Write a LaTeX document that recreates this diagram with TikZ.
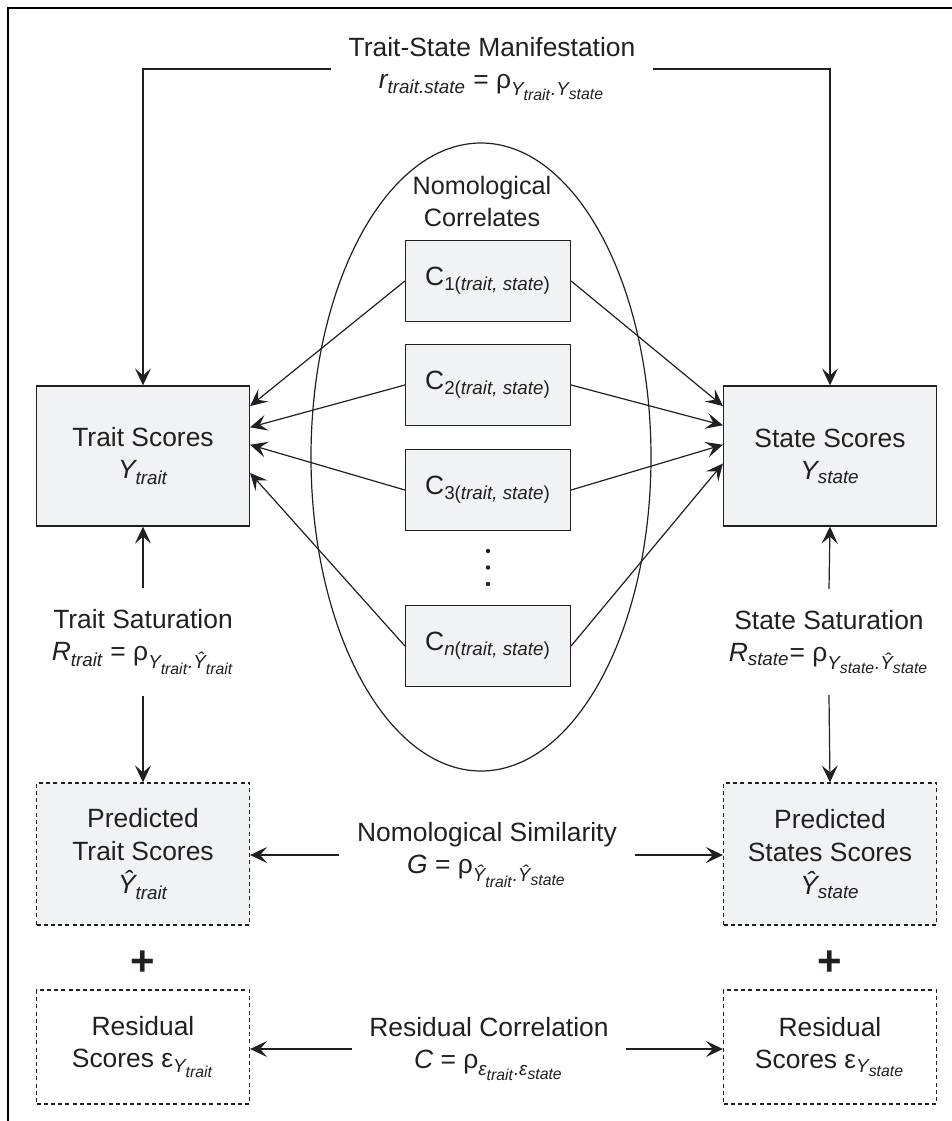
\documentclass[tikz,border=0pt]{standalone}
\usepackage{amsmath}
\usepackage{fontspec}
\setmainfont{Liberation Sans}
\usetikzlibrary{arrows.meta}
\DeclareMathSizes{13.2}{13.2}{9.4}{7.9}
\definecolor{boxgray}{RGB}{241,242,243}
\definecolor{inkgray}{RGB}{35,31,32}
\begin{document}
\begin{tikzpicture}[x=0.5pt,y=-0.5pt,
    every node/.style={font=\fontsize{13.2}{16}\selectfont, text=inkgray, align=center},
    scorebox/.style={draw=inkgray, line width=0.6pt, fill=boxgray, minimum width=106.5pt, minimum height=70pt, inner sep=0pt},
    predbox/.style={scorebox, dash pattern=on 2pt off 1.6pt, minimum height=71pt, font=\fontsize{13.2}{16.5}\selectfont},
    residbox/.style={scorebox, dash pattern=on 2pt off 1.6pt, fill=white, minimum height=57pt},
    corrbox/.style={draw=inkgray, line width=0.6pt, fill=boxgray, minimum width=82.5pt, minimum height=40.5pt, inner sep=0pt},
    corrlabel/.style={inner xsep=8.5pt, inner ysep=2pt},
    satlabel/.style={inner xsep=2pt, inner ysep=10.5pt},
    plus/.style={font=\fontsize{21}{21}\bfseries\selectfont},
    link/.style={draw=inkgray, line width=0.6pt, -{Stealth[length=8.5pt,width=8pt,inset=3.5pt]}}]
  \useasboundingbox (0,0) rectangle (952,1121);
  \draw[line width=1.2pt] (8,1121) -- (8,8) -- (952,8);

  \draw[line width=0.6pt, draw=inkgray] (481,457) ellipse [x radius=85pt, y radius=157pt];
  \node[font=\fontsize{12.6}{16}\selectfont] (nomcor) at (482,201) {Nomological\\Correlates};

  \node[scorebox] (trait) at (143,456) {Trait Scores\\$\textit{Y}_{\textit{trait}}$};
  \node[scorebox] (state) at (830,456) {State Scores\\$\textit{Y}_{\textit{state}}$};

  \node[corrbox] (c1) at (488,281) {C$_{\text{1(}\textit{trait, state}\text{)}}$};
  \node[corrbox] (c2) at (488,385) {C$_{\text{2(}\textit{trait, state}\text{)}}$};
  \node[corrbox] (c3) at (488,490) {C$_{\text{3(}\textit{trait, state}\text{)}}$};
  \node[corrbox] (cn) at (488,646) {C$_{\textit{n}\text{(}\textit{trait, state}\text{)}}$};
  \foreach \d in {551,567.5,584}
    \fill[inkgray] (488,\d) circle (1.1pt);

  \node[corrlabel] (manif) at (492,69) {Trait-State Manifestation\\
    $\textit{r}_{\textit{trait.state}}\text{ = ρ}_{\textit{Y}_{\textit{trait}}\textit{.}\textit{Y}_{\textit{state}}}$};

  \node[satlabel] (tsat) at (143,642) {Trait Saturation\\
    $\textit{R}_{\textit{trait}}\text{ = ρ}_{\textit{Y}_{\textit{trait}}\textit{.}\textit{Ŷ}_{\textit{trait}}}$};
  \node[satlabel] (ssat) at (829,642) {State Saturation\\
    $\textit{R}_{\textit{state}}\text{= ρ}_{\textit{Y}_{\textit{state}}\textit{.}\textit{Ŷ}_{\textit{state}}}$};

  \node[predbox] (ptrait) at (143,854) {Predicted\\Trait Scores\\$\textit{Ŷ}_{\textit{trait}}$};
  \node[predbox] (pstate) at (830,854) {Predicted\\States Scores\\$\textit{Ŷ}_{\textit{state}}$};
  \node[corrlabel, inner xsep=9pt] (nsim) at (487,855) {Nomological Similarity\\
    $\textit{G}\text{ = ρ}_{\textit{Ŷ}_{\textit{trait}}\textit{.}\textit{Ŷ}_{\textit{state}}}$};

  \node[plus] (plust) at (143,963) {+};
  \node[plus] (pluss) at (830,963) {+};

  \node[residbox] (rtrait) at (143,1047) {Residual\\Scores $\text{ε}_{\textit{Y}_{\textit{trait}}}$};
  \node[residbox] (rstate) at (830,1047) {Residual\\Scores $\text{ε}_{\textit{Y}_{\textit{state}}}$};
  \node[corrlabel] (rcorr) at (489,1049) {Residual Correlation\\
    $\textit{C}\text{ = ρ}_{\textit{ε}_{\textit{trait}}\textit{.}\textit{ε}_{\textit{state}}}$};

  \draw[link] (manif.west) -| (trait.north);
  \draw[link] (manif.east) -| (state.north);
  \foreach \c/\a/\b in {c1/25.9/155.6, c2/15.7/164.7, c3/6.4/174, cn/-9/184.3} {
    \draw[link] (\c.west) -- (trait.\a);
    \draw[link] (\c.east) -- (state.\b);
  }
  \draw[link] (tsat.north) -- (trait.south);
  \draw[link] (tsat.south) -- (ptrait.north);
  \draw[link] (ssat.north) -- (state.south);
  \draw[link] (ssat.south) -- (pstate.north);
  \draw[link] (nsim.west) -- (nsim.west -| ptrait.east);
  \draw[link] (nsim.east) -- (nsim.east -| pstate.west);
  \draw[link] (rcorr.west) -- (rcorr.west -| rtrait.east);
  \draw[link] (rcorr.east) -- (rcorr.east -| rstate.west);
\end{tikzpicture}
\end{document}
